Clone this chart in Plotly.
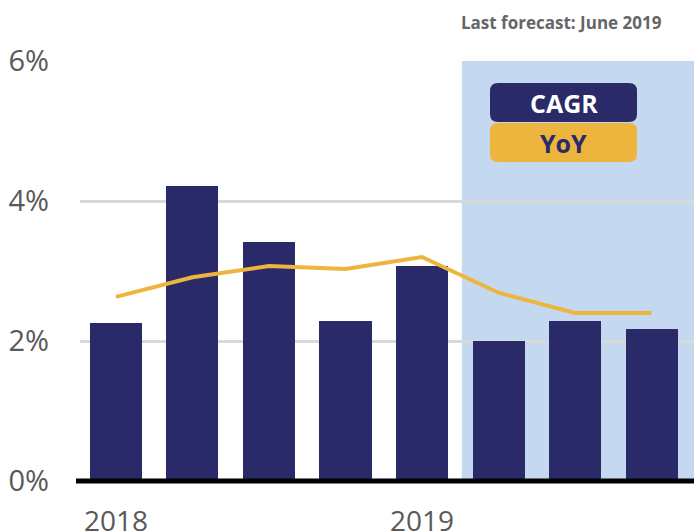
import plotly.graph_objects as go

# ---- data ----
quarters = [0, 1, 2, 3, 4, 5, 6, 7]          # 2018 Q1 .. 2019 Q4
tick_positions = [0, 4]
tick_labels = ["2018", "2019"]
cagr = [2.26, 4.21, 3.41, 2.29, 3.07, 2.00, 2.29, 2.17]
yoy = [2.63, 2.91, 3.07, 3.03, 3.20, 2.69, 2.40, 2.40]
forecast_start = 4.52
y_ticks = [0, 2, 4, 6]
y_tick_labels = ["0%", "2%", "4%", "6%"]

NAVY = "#2A2A69"
GOLD = "#EDB43E"
SHADE = "#C4D8EF"
GRID = "#D9D9D9"
FONT = "Open Sans"

W, H = 694, 532
L, R, T, B = 80, 0, 61, 51
PW, PH = W - L - R, H - T - B


def px2paper(x, y):
    return (x - L) / PW, (H - B - y) / PH


def rounded_rect(x0, y0, x1, y1, r):
    # pixel coords -> paper coords path with rounded corners
    def p(x, y):
        a, b = px2paper(x, y)
        return f"{a:.5f},{b:.5f}"
    return (f"M {p(x0 + r, y0)} L {p(x1 - r, y0)} Q {p(x1, y0)} {p(x1, y0 + r)} "
            f"L {p(x1, y1 - r)} Q {p(x1, y1)} {p(x1 - r, y1)} "
            f"L {p(x0 + r, y1)} Q {p(x0, y1)} {p(x0, y1 - r)} "
            f"L {p(x0, y0 + r)} Q {p(x0, y0)} {p(x0 + r, y0)} Z")


fig = go.Figure()
fig.add_trace(go.Bar(x=quarters, y=cagr, width=0.68, marker=dict(color=NAVY, line=dict(width=0)),
                     name="CAGR", hoverinfo="skip"))
fig.add_trace(go.Scatter(x=quarters, y=yoy, mode="lines", line=dict(color=GOLD, width=4),
                         name="YoY", hoverinfo="skip"))

shapes = [
    dict(type="rect", xref="x", yref="y", x0=forecast_start, x1=8, y0=0, y1=6,
         fillcolor=SHADE, line=dict(width=0), layer="below"),
    dict(type="line", xref="paper", yref="paper", x0=(76 - L) / PW, x1=1, y0=0, y1=0,
         line=dict(color="black", width=5), layer="above"),
    dict(type="path", xref="paper", yref="paper", path=rounded_rect(490, 83, 637, 122, 8),
         fillcolor=NAVY, line=dict(width=0)),
    dict(type="path", xref="paper", yref="paper", path=rounded_rect(490, 123, 637, 162, 8),
         fillcolor=GOLD, line=dict(width=0)),
]

cx, cy1 = px2paper(563.5, 102.5)
_, cy2 = px2paper(563.5, 142.5)
annotations = [
    dict(text="<b>CAGR</b>", x=cx, y=cy1, xref="paper", yref="paper", showarrow=False,
         font=dict(family=FONT, size=25, color="white"), xanchor="center", yanchor="middle"),
    dict(text="<b>YoY</b>", x=cx, y=cy2, xref="paper", yref="paper", showarrow=False,
         font=dict(family=FONT, size=25, color=NAVY), xanchor="center", yanchor="middle"),
    dict(text="<b>Last forecast: June 2019</b>", x=(664 - L) / PW, y=px2paper(0, 22)[1],
         xref="paper", yref="paper", showarrow=False, xanchor="right", yanchor="middle",
         font=dict(family=FONT, size=17, color="#666666")),
]

fig.update_layout(
    width=W, height=H,
    margin=dict(l=L, r=R, t=T, b=B, pad=0, autoexpand=False),
    paper_bgcolor="white", plot_bgcolor="white",
    showlegend=False, bargap=0,
    shapes=shapes, annotations=annotations,
    font=dict(family=FONT, color="#595959"),
    xaxis=dict(range=[-0.47, 7.555], tickvals=tick_positions, ticktext=tick_labels,
               showgrid=False, zeroline=False, showline=False, ticks="",
               tickfont=dict(size=28, color="#595959"), ticklabelstandoff=21,
               automargin=False, fixedrange=True),
    yaxis=dict(range=[0, 6], tickvals=y_ticks, ticktext=y_tick_labels,
               showgrid=True, gridcolor=GRID, gridwidth=3, zeroline=False, showline=False,
               ticks="", tickfont=dict(size=29, color="#595959"), ticklabelstandoff=30,
               automargin=False, fixedrange=True),
)

fig.write_html("out.html", config={"displayModeBar": False},
               post_script="document.body.style.margin='0px';document.body.style.overflow='hidden';")
